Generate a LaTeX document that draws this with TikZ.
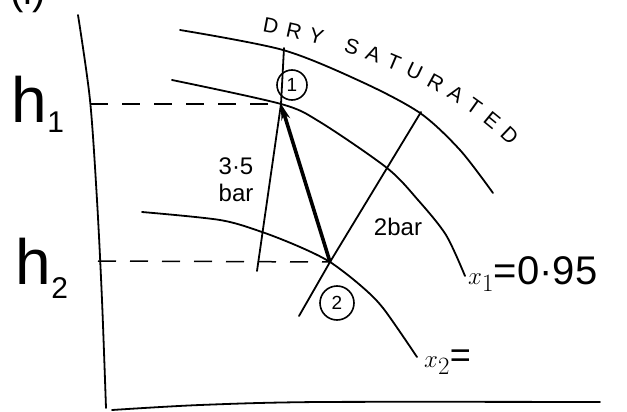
\documentclass[tikz,border=0pt]{standalone}
\usepackage{fontspec}
\setmainfont{Liberation Sans}
\usetikzlibrary{arrows.meta,decorations.text}

\begin{document}
\begin{tikzpicture}[x=1pt, y=-1pt,
    every node/.style={inner sep=0pt},
    curve/.style={line width=1.8pt, line cap=round},
    guide/.style={line width=1.5pt, dash pattern=on 18pt off 14pt},
    lbl/.style={font=\fontsize{24}{27}\selectfont, align=center},
    state/.style={circle, draw, line width=1.6pt, font=\fontsize{19}{19}\selectfont},
]
\useasboundingbox (0,0) rectangle (627,412);

% Axes
\draw[curve] plot[smooth] coordinates {(78,15) (90,100) (97,200) (102,300) (106,408)};
\draw[curve] plot[smooth] coordinates {(112,410) (200,405) (320,402) (600,402)};
\node[font=\fontsize{40}{40}\selectfont] (part) at (28,-6) {(i)};

% States
\coordinate (p1) at (281,104);
\coordinate (p2) at (330,262);
\coordinate (h1axis) at (90,104);
\coordinate (h2axis) at (98,261);

% Saturation and dryness lines
\draw[curve] plot[smooth] coordinates {(180,30) (283,50) (362,82) (420,113) (460,150) (493,193)};
\draw[curve] plot[smooth] coordinates {(172,80) (281,104) (320,122) (387,168) (418,200) (446,235) (465,276)};
\draw[curve] plot[smooth] coordinates {(142,212) (220,220) (262,232) (300,247) (330,262) (360,285) (383,308) (417,357)};

% Constant pressure lines
\coordinate (bigtop) at (284,48);
\coordinate (bigbot) at (257,271);
\coordinate (smalltop) at (421,112);
\coordinate (smallbot) at (299,316);
\draw[curve] (bigtop) -- (p1) -- (bigbot);
\draw[curve] (smalltop) -- (p2) -- (smallbot);

% Expansion 2 -> 1
\draw[-{Stealth[length=16pt, width=9pt]}, line width=3.6pt] (p2) -- (p1);

% Enthalpy guides
\draw[guide] (h1axis) -- (p1);
\draw[guide] (h2axis) -- (p2);

% Labels
\node[font=\fontsize{64}{64}\selectfont] (h1) at (38,104) {h\raisebox{-10pt}{\fontsize{30}{30}\selectfont 1}};
\node[font=\fontsize{64}{64}\selectfont] (h2) at (42,268) {h\raisebox{-14pt}{\fontsize{30}{30}\selectfont 2}};
\node[lbl] (big) at (236,180) {3·5\\bar};
\node[lbl] (small) at (398,227) {2bar};
\node[anchor=west, font=\fontsize{40}{40}\selectfont] (x1) at (468,274) {$x_1$=0·95};
\node[anchor=west, font=\fontsize{36}{36}\selectfont] (x2) at (424,362) {$x_2$=};
\node[state, minimum size=30pt] (s1) at (292,85) {1};
\node[state, minimum size=34pt] (s2) at (337,303) {2};

% Dry saturated label
\path[decorate, decoration={text along path, text align=fit to path,
    text={|\fontsize{21}{21}\selectfont|DRY SATURATED}}]
    (262,32) .. controls (340,46) and (440,76) .. (510,146);
\end{tikzpicture}
\end{document}
